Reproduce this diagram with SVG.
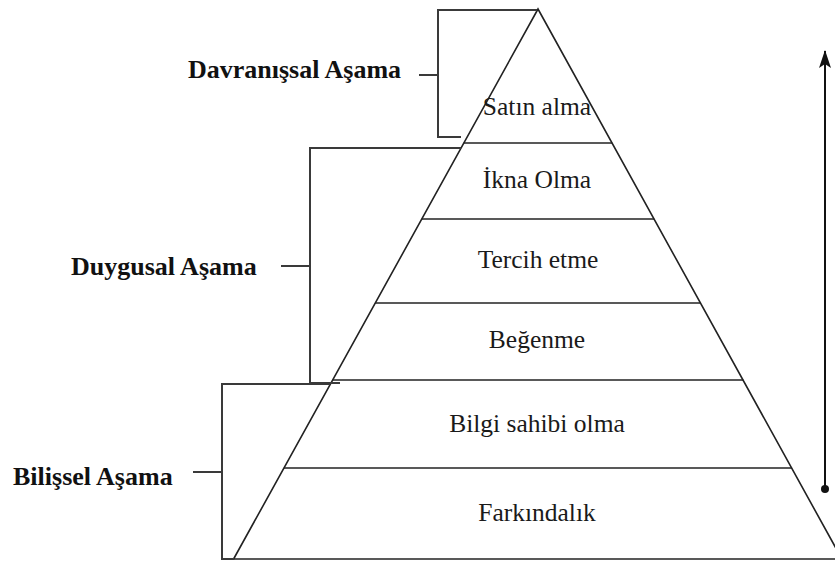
<svg xmlns="http://www.w3.org/2000/svg" width="835" height="562" viewBox="0 0 835 562">
<style>
  .edge{stroke:#222;stroke-width:1.6;fill:none}
  .br{stroke:#3a3a3a;stroke-width:2;fill:none}
  .lbl{font-family:"Liberation Serif",serif;font-size:25.5px;fill:#1a1a1a;text-anchor:middle}
  .stage{font-family:"Liberation Serif",serif;font-size:26px;font-weight:bold;fill:#111}
</style>
<defs>
  <marker id="ah" viewBox="0 0 18 12" refX="17" refY="6" markerWidth="18" markerHeight="12" markerUnits="userSpaceOnUse" orient="auto">
    <path d="M18,6 L0,0 L4,6 L0,12 Z" fill="#111"/>
  </marker>
</defs>
<rect width="835" height="562" fill="#fff"/>
<g id="pyramid">
  <path class="edge" d="M233.6,559 L538,9 L843,561"/>
  <line class="edge" x1="463.8" y1="143" x2="612.2" y2="143"/>
  <line class="edge" x1="421.8" y1="219" x2="654.2" y2="219"/>
  <line class="edge" x1="375.3" y1="303" x2="700.7" y2="303"/>
  <line class="edge" x1="332.7" y1="380" x2="743.3" y2="380"/>
  <line class="edge" x1="283.9" y1="468" x2="792.1" y2="468"/>
  <line class="edge" x1="222" y1="559" x2="835" y2="559"/>
</g>
<g id="layer-satin"><text class="lbl" x="537" y="115">Satın alma</text></g>
<g id="layer-ikna"><text class="lbl" x="537" y="188">İkna Olma</text></g>
<g id="layer-tercih"><text class="lbl" x="538" y="268">Tercih etme</text></g>
<g id="layer-begenme"><text class="lbl" x="537" y="348">Beğenme</text></g>
<g id="layer-bilgi"><text class="lbl" x="537" y="432">Bilgi sahibi olma</text></g>
<g id="layer-farkindalik"><text class="lbl" x="537" y="521">Farkındalık</text></g>
<g id="stage-davranissal">
  <path class="br" d="M537,10 L438,10 L438,137 L461,137"/>
  <line class="br" x1="419" y1="75" x2="438" y2="75"/>
  <text class="stage" x="188" y="78">Davranışsal Aşama</text>
</g>
<g id="stage-duygusal">
  <path class="br" d="M461,148 L310,148 L310,383 L340,383"/>
  <line class="br" x1="281" y1="266" x2="310" y2="266"/>
  <text class="stage" x="71" y="275">Duygusal Aşama</text>
</g>
<g id="stage-bilissel">
  <path class="br" d="M330,384 L222,384 L222,559 L234,559"/>
  <line class="br" x1="193" y1="472" x2="222" y2="472"/>
  <text class="stage" x="13" y="485">Bilişsel Aşama</text>
</g>
<g id="connectors">
  <line x1="825" y1="488" x2="825" y2="51" stroke="#111" stroke-width="2" marker-end="url(#ah)"/>
  <circle cx="825" cy="489" r="4" fill="#111"/>
</g>
</svg>
